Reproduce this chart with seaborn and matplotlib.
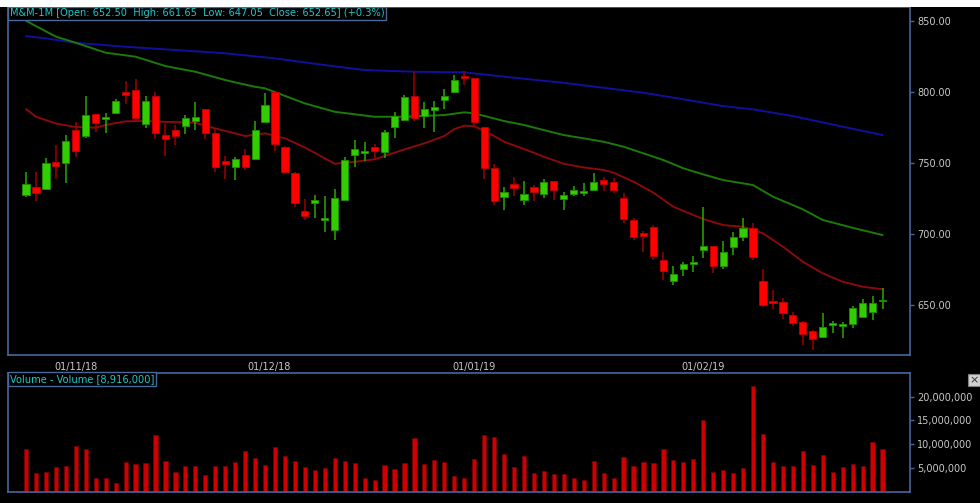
import numpy as np
import pandas as pd
import seaborn as sns
import matplotlib.pyplot as plt
from matplotlib.patches import Rectangle
from matplotlib.ticker import FuncFormatter

# Daily candles, M&M, 25 Oct 2018 .. end Feb 2019
opens = [727.7, 732.9, 731.9, 750.5, 749.8, 773.2, 769.0, 784.3, 780.8, 785.2,
         800.0, 801.6, 777.5, 797.0, 770.0, 773.0, 776.0, 779.8, 787.8, 771.1,
         751.4, 747.0, 755.4, 752.8, 779.1, 799.8, 761.5, 743.2, 716.2, 721.6,
         709.6, 702.8, 723.9, 755.9, 757.0, 761.0, 757.7, 775.6, 780.3, 797.2,
         783.1, 787.3, 794.4, 799.8, 811.5, 809.6, 775.3, 746.2, 726.0, 735.4,
         723.7, 732.9, 728.4, 737.1, 724.9, 728.1, 728.8, 730.7, 738.2, 736.4,
         725.1, 710.1, 700.4, 704.7, 681.9, 666.9, 675.1, 678.9, 688.7, 691.5,
         677.2, 690.8, 697.9, 704.0, 667.1, 652.6, 652.1, 642.7, 638.3, 631.9,
         627.2, 635.9, 635.4, 636.4, 641.8, 644.8, 652.50]
highs = [743.9, 743.9, 753.3, 762.9, 769.5, 778.6, 797.2, 784.6, 785.0, 795.1,
         807.7, 809.4, 797.2, 800.0, 777.2, 776.5, 783.6, 792.7, 788.0, 773.7,
         754.9, 754.2, 759.6, 779.5, 799.0, 800.1, 761.8, 743.5, 724.4, 727.7,
         727.0, 731.7, 754.0, 766.0, 764.5, 763.4, 773.2, 786.1, 797.9, 813.8,
         793.2, 793.9, 801.9, 812.0, 815.0, 810.0, 775.6, 749.3, 733.4, 740.4,
         737.3, 734.5, 738.5, 737.5, 729.8, 734.0, 735.6, 743.2, 740.4, 739.6,
         728.6, 711.5, 702.3, 706.1, 687.5, 677.7, 680.3, 684.5, 719.3, 691.8,
         695.3, 701.2, 711.5, 707.5, 675.4, 660.6, 655.2, 645.3, 638.6, 632.2,
         644.1, 639.0, 638.0, 649.3, 654.2, 656.6, 661.65]
lows = [726.3, 723.5, 731.5, 738.5, 736.1, 754.0, 767.9, 772.1, 771.4, 784.3,
        791.5, 780.3, 774.4, 766.9, 755.2, 762.7, 770.4, 773.2, 766.7, 743.4,
        739.0, 738.0, 745.1, 752.5, 778.8, 758.4, 742.0, 718.8, 709.9, 711.5,
        701.4, 695.5, 723.6, 747.0, 751.4, 752.6, 753.3, 767.9, 780.0, 779.5,
        774.4, 772.1, 788.0, 799.5, 804.9, 776.8, 738.5, 720.6, 716.9, 726.8,
        720.4, 723.5, 725.6, 723.9, 716.9, 726.8, 726.8, 730.2, 730.5, 728.8,
        707.5, 695.7, 687.5, 681.7, 667.6, 664.1, 670.4, 673.2, 682.9, 672.8,
        675.4, 685.2, 695.3, 681.7, 648.4, 647.0, 640.4, 635.2, 621.9, 618.3,
        627.0, 630.0, 626.5, 634.0, 641.6, 639.7, 647.05]
closes = [735.2, 729.1, 749.8, 748.1, 765.7, 758.4, 783.6, 778.0, 782.2, 793.9,
          798.1, 781.9, 793.9, 771.4, 766.7, 769.0, 781.9, 782.4, 771.4, 747.0,
          749.3, 752.6, 747.4, 773.0, 790.8, 763.1, 743.9, 721.6, 712.7, 723.9,
          711.5, 725.1, 752.1, 759.9, 758.2, 758.7, 771.8, 783.1, 796.2, 781.9,
          787.8, 789.2, 797.2, 808.4, 809.9, 778.6, 746.2, 723.0, 729.4, 732.6,
          727.9, 729.6, 736.4, 731.0, 727.7, 731.2, 730.0, 736.4, 735.4, 730.7,
          710.8, 697.9, 698.8, 684.5, 673.9, 672.1, 678.7, 680.5, 691.8, 677.7,
          687.6, 698.1, 704.2, 684.0, 650.0, 651.6, 644.6, 637.5, 629.8, 626.1,
          634.3, 637.1, 636.6, 647.6, 651.6, 651.6, 652.65]

# volume in millions of shares
volume_m = [8.96, 3.82, 4.17, 5.08, 5.44, 9.52, 8.96, 2.90, 2.76, 1.70,
            6.14, 5.79, 5.93, 11.92, 6.49, 4.17, 5.30, 5.30, 3.46, 5.30,
            5.44, 6.14, 8.61, 6.99, 5.65, 9.38, 7.41, 6.35, 5.08, 4.52,
            4.87, 6.99, 6.49, 5.93, 2.76, 2.41, 5.65, 4.73, 5.93, 11.35,
            5.79, 6.70, 6.14, 3.32, 2.76, 6.85, 11.92, 11.56, 7.89, 5.23,
            7.41, 3.96, 4.31, 3.61, 3.61, 2.90, 2.41, 6.49, 3.96, 2.76,
            7.20, 5.44, 6.14, 5.93, 8.96, 6.70, 6.14, 6.85, 15.08, 4.17,
            4.52, 3.82, 4.87, 22.27, 12.06, 6.14, 5.30, 5.30, 8.61, 5.65,
            7.61, 4.17, 5.08, 5.79, 5.44, 10.44, 8.916]

# moving averages, sampled at candle positions
ma_red_idx = [0, 1, 3, 5, 7, 8, 10, 12, 14, 17, 19, 21, 22, 24, 26, 28, 30, 31,
              33, 35, 38, 40, 42, 43, 44, 45, 47, 48, 50, 52, 54, 56, 58, 59,
              61, 63, 65, 67, 68, 70, 72, 74, 76, 78, 80, 82, 84, 86]
ma_red_val = [788.0, 782.6, 777.8, 775.4, 774.9, 776.8, 779.4, 779.6, 779.0,
              778.4, 774.4, 770.9, 769.0, 770.9, 767.4, 761.0, 753.3, 749.5,
              750.9, 752.6, 759.6, 763.9, 769.0, 773.9, 776.3, 776.0, 769.0,
              765.0, 759.9, 754.4, 749.5, 746.9, 745.1, 743.2, 736.8, 729.1,
              719.2, 713.4, 710.6, 706.3, 705.1, 700.5, 691.1, 680.5, 672.3,
              666.4, 662.9, 661.1]
ma_green_idx = [0, 3, 5, 8, 11, 14, 17, 20, 21, 23, 24, 28, 31, 35, 38, 42, 44,
                45, 48, 50, 52, 54, 56, 58, 60, 62, 64, 66, 68, 70, 73, 75, 78,
                80, 83, 86]
ma_green_val = [850.2, 839.0, 834.7, 827.7, 824.9, 818.3, 814.3, 808.5, 806.8,
                803.7, 802.6, 792.0, 786.1, 782.6, 782.6, 783.8, 785.7, 785.0,
                779.6, 776.8, 773.2, 769.7, 767.4, 765.0, 761.5, 756.8, 752.1,
                746.3, 742.0, 738.0, 734.5, 726.3, 717.4, 709.9, 704.4, 699.3]
ma_blue_idx = [0, 2, 5, 10, 15, 20, 25, 30, 34, 39, 44, 49, 54, 62, 66, 70, 73,
               77, 82, 86]
ma_blue_val = [839.4, 837.8, 834.7, 831.9, 829.6, 827.3, 823.7, 819.0, 815.5,
               814.3, 813.9, 810.1, 806.5, 799.5, 794.9, 790.1, 787.8, 783.1,
               775.6, 769.7]

date_ticks = [5, 24.4, 45, 68]
date_labels = ['01/11/18', '01/12/18', '01/01/19', '01/02/19']
price_ticks = [650, 700, 750, 800, 850]
vol_ticks = [5e6, 10e6, 15e6, 20e6]

BORDER = '#46689a'
TXT = '#c8c8c8'
CYAN = '#1ec8c8'

sns.set_style('dark', {'axes.facecolor': 'black', 'figure.facecolor': 'black'})
plt.rcParams['font.family'] = ['DejaVu Sans']

W, H = 980, 503
fig = plt.figure(figsize=(W / 100, H / 100), dpi=100, facecolor='black')
fig.add_artist(Rectangle((0, 1 - 7 / H), 1, 7 / H, transform=fig.transFigure,
                         facecolor='white', edgecolor='none'))
ax = fig.add_axes([8 / W, 1 - 355 / H, 902 / W, 348 / H])
axv = fig.add_axes([8 / W, 1 - 492 / H, 902 / W, 119 / H])

# candles
df = pd.DataFrame({'o': opens, 'h': highs, 'l': lows, 'c': closes})
df['i'] = np.arange(len(df))
up = df['c'] >= df['o']
for mask, body, edge, wick in [(up, '#33cc00', '#1f8f00', '#2aa800'),
                               (~up, '#ff0000', '#c00000', '#a00000')]:
    d = df[mask]
    ax.vlines(d['i'], d['l'], d['h'], color=wick, linewidth=1.1, zorder=2)
    lo = np.minimum(d['o'], d['c'])
    ht = np.maximum((d['o'] - d['c']).abs(), 0.8)
    ax.bar(d['i'], ht, bottom=lo, width=0.72, color=body, edgecolor=edge,
           linewidth=0.6, zorder=3)

# moving averages
sns.lineplot(x=ma_blue_idx, y=ma_blue_val, color='#10109a', linewidth=1.4, ax=ax, zorder=1)
sns.lineplot(x=ma_green_idx, y=ma_green_val, color='#1c7a08', linewidth=1.4, ax=ax, zorder=1)
sns.lineplot(x=ma_red_idx, y=ma_red_val, color='#8a0a0a', linewidth=1.4, ax=ax, zorder=1)

ax.set_xlim(-1.81, 88.76)
ax.set_ylim(614.8, 859.9)
ax.yaxis.tick_right()
ax.set_yticks(price_ticks)
ax.set_yticklabels([f'{p:.2f}' for p in price_ticks])
ax.set_xticks(date_ticks)
ax.set_xticklabels(date_labels)
ax.tick_params(axis='both', colors=BORDER, labelcolor=TXT, labelsize=7,
               length=3, width=1, pad=2)
ax.set_xlabel('')
ax.set_ylabel('')
ax.grid(False)

ax.text(0.002, 0.996, 'M&M-1M [Open: 652.50  High: 661.65  Low: 647.05  Close: 652.65] (+0.3%)',
        transform=ax.transAxes, ha='left', va='top', fontsize=7.1, color=CYAN,
        bbox=dict(boxstyle='square,pad=0.17', facecolor='black', edgecolor=BORDER, linewidth=1))

# volume
vdf = pd.DataFrame({'i': np.arange(len(volume_m)), 'v': np.array(volume_m) * 1e6})
sns.barplot(data=vdf, x='i', y='v', native_scale=True, width=0.42, color='#cc0000',
            saturation=1, edgecolor='#7a0000', linewidth=0.5, errorbar=None, ax=axv)
axv.set_xlim(-1.81, 88.76)
axv.set_ylim(-0.13e6, 25.0e6)
axv.yaxis.tick_right()
axv.set_yticks(vol_ticks)
axv.yaxis.set_major_formatter(FuncFormatter(lambda v, p: f'{v:,.0f}'))
axv.set_xticks([])
axv.tick_params(axis='y', colors=BORDER, labelcolor=TXT, labelsize=7,
                length=3, width=1, pad=2)
axv.set_xlabel('')
axv.set_ylabel('')
axv.grid(False)
axv.text(0.002, 0.993, 'Volume - Volume [8,916,000]', transform=axv.transAxes,
         ha='left', va='top', fontsize=7.1, color=CYAN,
         bbox=dict(boxstyle='square,pad=0.17', facecolor='black', edgecolor=BORDER, linewidth=1))

for a in (ax, axv):
    for s in a.spines.values():
        s.set_visible(True)
        s.set_color(BORDER)
        s.set_linewidth(1.2)

fig.text(974 / W, 1 - 380 / H, '×', ha='center', va='center', fontsize=8, color='#303030',
         bbox=dict(boxstyle='square,pad=0.1', facecolor='#d0d0d0', edgecolor='#808080', linewidth=0.8))

fig.savefig('out.png', dpi=100, facecolor='black')
